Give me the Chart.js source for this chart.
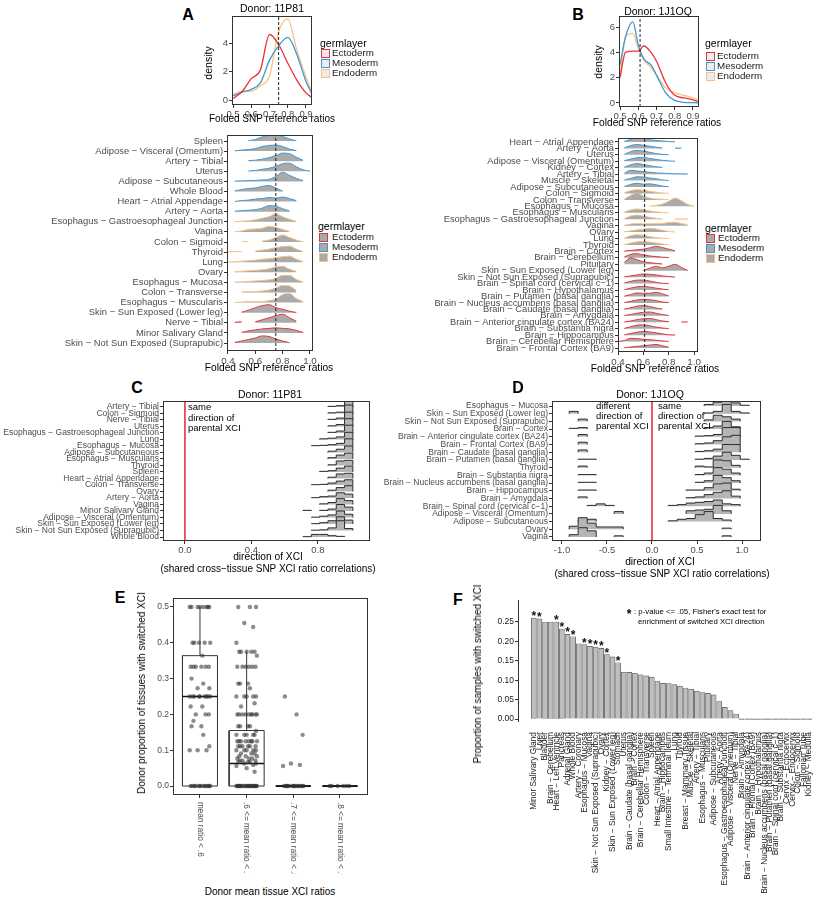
<!DOCTYPE html>
<html>
<head>
<meta charset="utf-8">
<script src="https://cdn.jsdelivr.net/npm/chart.js@4.4.1/dist/chart.umd.min.js"></script>
<style>
  body { margin: 0; background: #fff; overflow: hidden; font-family: 'Liberation Sans', Arial, sans-serif; }
  #fig { position: relative; width: 815px; height: 900px; overflow: hidden; }
  #fig canvas { position: absolute; }
  .t { position: absolute; white-space: nowrap; line-height: 1; color: #000; }
  .key { position: absolute; width: 7px; height: 7px; border: 1.3px solid; }
</style>
</head>
<body>
<div id="fig"></div>
<script>
const na = null;

// ---- A / B top: density of folded SNP ratios per germ layer
const densA_x = [0.50, 0.55, 0.60, 0.65, 0.70, 0.75, 0.80, 0.85, 0.90, 0.93];
const densA_ecto = [0.1, 0.6, 1.5, 2.1, 4.6, 3.9, 2.6, 1.4, 0.5, 0.2];
const densA_meso = [0.3, 0.55, 0.75, 1.2, 2.8, 3.8, 4.4, 3.2, 1.3, 0.5];
const densA_endo = [0.4, 0.6, 0.6, 1.0, 1.7, 4.8, 5.7, 3.5, 1.6, 0.6];
const densB_x = [0.50, 0.53, 0.57, 0.60, 0.63, 0.67, 0.70, 0.75, 0.80, 0.85, 0.90, 0.93];
const densB_ecto = [2.0, 4.0, 4.1, 4.1, 4.5, 4.0, 3.3, 1.6, 0.6, 0.4, 0.25, 0.1];
const densB_meso = [3.0, 5.2, 6.4, 4.6, 3.5, 3.0, 2.2, 0.8, 0.2, 0.05, 0.02, 0.0];
const densB_endo = [2.2, 5.2, 5.5, 4.3, 3.4, 2.8, 2.2, 1.2, 0.8, 0.6, 0.4, 0.25];
const medianA = 0.75;
const medianB = 0.61;
const densTicksX = [0.5, 0.6, 0.7, 0.8, 0.9];

// ---- A / B ridgelines (heights in row units, on ridgeX grid)
const ridgeX = [0.40, 0.45, 0.50, 0.55, 0.60, 0.65, 0.70, 0.75, 0.80, 0.85, 0.90, 0.95, 1.00];
const ridgeTicksX = [0.4, 0.6, 0.8, 1.0];
const ridgeA_tissues = ['Spleen', 'Adipose − Visceral (Omentum)', 'Artery − Tibial', 'Uterus', 'Adipose − Subcutaneous',
  'Whole Blood', 'Heart − Atrial Appendage', 'Artery − Aorta', 'Esophagus − Gastroesophageal Junction', 'Vagina',
  'Colon − Sigmoid', 'Thyroid', 'Lung', 'Ovary', 'Esophagus − Mucosa', 'Colon − Transverse', 'Esophagus − Muscularis',
  'Skin − Sun Exposed (Lower leg)', 'Nerve − Tibial', 'Minor Salivary Gland', 'Skin − Not Sun Exposed (Suprapubic)'];
const ridgeA_layer = ['M','M','M','M','M','M','M','M','E','E','E','E','E','E','E','E','E','X','X','X','X'];
const ridgeA_h = [
  [na, na, na, 0.02, 0.15, 0.4, 0.55, 0.6, 0.45, 0.2, 0.03, na, na],
  [na, 0.02, 0.1, 0.15, 0.25, 0.45, 0.55, 0.6, 0.45, 0.2, 0.05, na, na],
  [na, na, na, 0.05, 0.1, 0.2, 0.35, 0.55, 0.8, 0.75, 0.4, 0.1, na],
  [na, na, na, 0.03, 0.08, 0.2, 0.3, 0.5, 0.75, 0.8, 0.45, 0.15, 0.02],
  [na, 0.03, 0.05, 0.08, 0.1, 0.15, 0.2, 0.5, 0.9, 0.6, 0.3, 0.08, na],
  [na, 0.05, 0.2, 0.3, 0.35, 0.5, 0.6, 0.35, 0.05, na, na, na, na],
  [na, 0.02, 0.1, 0.15, 0.25, 0.3, 0.4, 0.35, 0.45, 0.3, 0.1, na, na],
  [na, 0.05, 0.1, 0.15, 0.2, 0.35, 0.6, 0.55, 0.3, 0.08, na, na, na],
  [na, 0.02, 0.05, 0.1, 0.2, 0.35, 0.5, 0.8, 0.5, 0.25, 0.05, na, na],
  [na, 0.02, 0.1, 0.25, 0.3, 0.35, 0.55, 0.45, 0.25, 0.05, na, na, na],
  [na, na, 0.05, 0.05, na, 0.1, 0.2, 0.45, 0.7, 0.45, 0.2, 0.03, na],
  [0.02, 0.05, 0.05, na, 0.1, 0.2, 0.3, 0.45, 0.55, 0.6, 0.3, 0.05, na],
  [0.02, 0.05, 0.1, 0.15, 0.2, 0.3, 0.35, 0.45, 0.55, 0.6, 0.3, 0.05, na],
  [na, 0.05, 0.1, 0.15, 0.2, 0.25, 0.35, 0.55, 0.6, 0.3, 0.1, na, na],
  [na, 0.03, 0.05, 0.1, 0.15, 0.2, 0.25, 0.4, 0.7, 0.7, 0.3, 0.05, na],
  [na, na, 0.05, 0.1, 0.1, 0.15, 0.25, 0.45, 0.7, 0.65, 0.2, na, na],
  [na, 0.02, 0.05, 0.1, 0.1, 0.1, 0.2, 0.35, 0.8, 0.9, 0.4, 0.1, na],
  [na, na, 0.05, 0.25, 0.5, 0.7, 0.8, 0.5, 0.35, 0.15, 0.02, na, na],
  [na, 0.05, 0.1, na, 0.1, 0.3, 0.5, 0.7, 0.85, 0.5, 0.15, na, na],
  [na, na, 0.05, 0.2, 0.3, 0.4, 0.45, 0.5, 0.45, 0.4, 0.25, 0.05, na],
  [na, 0.05, 0.2, 0.35, 0.5, 0.7, 0.65, 0.4, 0.2, 0.03, na, na, na]
];
const ridgeB_tissues = ['Heart − Atrial Appendage', 'Artery − Aorta', 'Uterus', 'Adipose − Visceral (Omentum)', 'Kidney − Cortex',
  'Artery − Tibial', 'Muscle − Skeletal', 'Adipose − Subcutaneous', 'Colon − Sigmoid', 'Colon − Transverse',
  'Esophagus − Mucosa', 'Esophagus − Muscularis', 'Esophagus − Gastroesophageal Junction', 'Vagina', 'Ovary', 'Lung',
  'Thyroid', 'Brain − Cortex', 'Brain − Cerebellum', 'Pituitary', 'Skin − Sun Exposed (Lower leg)',
  'Skin − Not Sun Exposed (Suprapubic)', 'Brain − Spinal cord (cervical c−1)', 'Brain − Hypothalamus',
  'Brain − Putamen (basal ganglia)', 'Brain − Nucleus accumbens (basal ganglia)', 'Brain − Caudate (basal ganglia)',
  'Brain − Amygdala', 'Brain − Anterior cingulate cortex (BA24)', 'Brain − Substantia nigra', 'Brain − Hippocampus',
  'Brain − Cerebellar Hemisphere', 'Brain − Frontal Cortex (BA9)'];
const ridgeB_layer = ['M','M','M','M','M','M','M','M','E','E','E','E','E','E','E','E','E',
  'X','X','X','X','X','X','X','X','X','X','X','X','X','X','X','X'];
const ridgeB_h = [
  [na, 0.1, 0.4, 0.75, 0.6, 0.35, 0.25, 0.15, 0.08, 0.02, na, na, na],
  [na, 0.1, 0.45, 0.6, 0.5, 0.35, 0.2, 0.05, na, 0.05, 0.05, na, na],
  [na, 0.1, 0.5, 0.7, 0.6, 0.4, 0.2, 0.08, 0.02, na, na, na, na],
  [na, 0.1, 0.35, 0.55, 0.6, 0.45, 0.3, 0.15, 0.05, 0.02, na, na, na],
  [na, 0.1, 0.45, 0.65, 0.5, 0.3, 0.15, 0.05, na, na, na, na, na],
  [na, 0.15, 0.6, 0.5, 0.4, 0.3, 0.2, 0.15, 0.1, 0.05, 0.05, 0.02, na],
  [na, 0.1, 0.35, 0.6, 0.55, 0.4, 0.3, 0.1, 0.02, na, na, na, na],
  [na, 0.1, 0.4, 0.6, 0.45, 0.5, 0.35, 0.15, 0.05, na, na, na, na],
  [na, 0.1, 0.45, 0.6, 0.5, 0.35, 0.2, 0.08, 0.02, na, na, na, na],
  [na, 0.15, 0.7, 1.1, 0.6, 0.3, 0.15, 0.1, 0.05, na, na, na, na],
  [na, na, na, na, na, 0.05, 0.15, 0.35, 0.8, 1.3, 0.9, 0.3, 0.05],
  [na, 0.1, 0.45, 0.6, 0.5, 0.3, 0.15, 0.05, 0.02, na, na, na, na],
  [na, 0.1, 0.5, 0.65, 0.5, 0.3, 0.15, 0.05, na, 0.05, 0.05, 0.05, na],
  [na, 0.05, 0.25, 0.35, 0.3, 0.3, 0.3, 0.35, 0.5, 0.55, 0.35, 0.15, na],
  [na, 0.05, 0.2, 0.35, 0.45, 0.6, 0.5, 0.3, 0.1, 0.02, na, na, na],
  [na, 0.1, 0.45, 0.6, 0.5, 0.3, 0.15, 0.05, 0.02, na, na, na, na],
  [na, 0.05, 0.3, 0.5, 0.55, 0.45, 0.3, 0.15, 0.05, na, na, na, na],
  [na, 0.05, 0.15, 0.25, 0.35, 0.55, 0.8, 0.6, 0.35, 0.1, na, na, na],
  [na, 0.15, 0.55, 0.65, 0.45, 0.3, 0.2, 0.1, 0.05, na, na, na, na],
  [na, 0.3, 1.0, 0.7, 0.4, 0.25, 0.15, 0.05, na, na, na, na, na],
  [na, na, na, na, 0.05, 0.4, 0.7, 0.45, 0.7, 1.0, 0.5, 0.05, na],
  [na, 0.05, 0.2, 0.35, 0.5, 0.45, 0.35, 0.2, 0.1, 0.02, na, na, na],
  [na, 0.1, 0.35, 0.55, 0.55, 0.4, 0.2, 0.05, 0.02, na, na, na, na],
  [na, 0.05, 0.3, 0.5, 0.55, 0.45, 0.3, 0.15, 0.05, na, na, na, na],
  [na, 0.05, 0.3, 0.55, 0.5, 0.5, 0.65, 0.4, 0.1, na, na, na, na],
  [na, 0.05, 0.25, 0.45, 0.55, 0.5, 0.35, 0.15, 0.05, na, na, na, na],
  [na, 0.05, 0.25, 0.5, 0.6, 0.45, 0.2, 0.05, na, na, na, na, na],
  [na, 0.05, 0.2, 0.4, 0.55, 0.6, 0.4, 0.2, 0.05, na, na, na, na],
  [na, 0.05, 0.2, 0.4, 0.55, 0.6, 0.4, 0.2, 0.1, na, 0.05, 0.05, na],
  [na, 0.05, 0.3, 0.55, 0.6, 0.45, 0.25, 0.1, 0.02, na, na, na, na],
  [na, 0.05, 0.25, 0.45, 0.55, 0.5, 0.35, 0.2, 0.05, 0.02, na, na, na],
  [0.02, 0.15, 0.5, 0.45, 0.35, 0.3, 0.2, 0.1, 0.03, na, na, na, na],
  [na, 0.03, 0.15, 0.25, 0.35, 0.45, 0.55, 0.35, 0.1, na, na, na, na]
];

// ---- C / D: histograms of XCI direction correlations (bin heights in row units)
const corrC_edges = [0.71, 0.76, 0.81, 0.86, 0.91, 0.96, 1.01];
const corrC_ticks = [0.0, 0.4, 0.8];
const corrC_tissues = ['Artery − Tibial', 'Colon − Sigmoid', 'Nerve − Tibial', 'Uterus', 'Esophagus − Gastroesophageal Junction',
  'Lung', 'Esophagus − Mucosa', 'Adipose − Subcutaneous', 'Esophagus − Muscularis', 'Thyroid', 'Spleen',
  'Heart − Atrial Appendage', 'Colon − Transverse', 'Ovary', 'Artery − Aorta', 'Vagina', 'Minor Salivary Gland',
  'Adipose − Visceral (Omentum)', 'Skin − Sun Exposed (Lower leg)', 'Skin − Not Sun Exposed (Suprapubic)', 'Whole Blood'];
const corrC_h = [
  [na, na, na, 0.1, 0.2, 1.3],
  [na, na, na, 0.1, 0.2, 1.3],
  [na, na, na, 0.1, 0.3, 1.2],
  [na, na, na, 0.1, 0.3, 1.2],
  [na, na, na, 0.1, 0.3, 1.2],
  [na, na, 0.1, 0.2, 0.4, 1.1],
  [na, 0.05, 0.1, 0.2, 0.4, 1.1],
  [na, na, na, 0.2, 0.5, 1.0],
  [na, na, na, 0.2, 0.6, 0.9],
  [na, na, na, 0.1, 0.7, 0.8],
  [na, na, 0.1, 0.2, 0.6, 0.9],
  [na, na, na, 0.2, 0.7, 0.8],
  [na, 0.05, 0.1, 0.3, 0.6, 0.8],
  [na, na, na, 0.2, 0.6, 0.9],
  [na, 0.05, 0.2, 0.3, 0.8, 0.6],
  [na, na, 0.1, 0.3, 0.9, 0.6],
  [0.1, na, 0.1, 0.3, 1.0, 0.6],
  [na, 0.05, 0.2, 0.4, 1.0, 0.5],
  [na, 0.05, 0.2, 0.5, 1.1, 0.6],
  [na, 0.05, 0.1, 0.4, 1.5, 0.3],
  [0.05, 0.4, 0.4, 0.2, 0.1, na]
];
const corrD_leftEdges = [-0.92, -0.82, -0.72, -0.62, -0.52, -0.42, -0.32];
const corrD_rightEdges = [0.18, 0.28, 0.38, 0.48, 0.58, 0.68, 0.78, 0.88, 0.98, 1.08];
const corrD_ticks = [-1.0, -0.5, 0.0, 0.5, 1.0];
const corrD_tissues = ['Esophagus − Mucosa', 'Skin − Sun Exposed (Lower leg)', 'Skin − Not Sun Exposed (Suprapubic)',
  'Brain − Cortex', 'Brain − Anterior cingulate cortex (BA24)', 'Brain − Frontal Cortex (BA9)',
  'Brain − Caudate (basal ganglia)', 'Brain − Putamen (basal ganglia)', 'Thyroid', 'Brain − Substantia nigra',
  'Brain − Nucleus accumbens (basal ganglia)', 'Brain − Hippocampus', 'Brain − Amygdala',
  'Brain − Spinal cord (cervical c−1)', 'Adipose − Visceral (Omentum)', 'Adipose − Subcutaneous', 'Ovary', 'Vagina'];
const corrD_left = [
  [na, na, na, na, na, na],
  [0.3, na, na, na, na, na],
  [na, 0.3, na, na, na, na],
  [0.1, 0.2, na, na, na, na],
  [na, 0.3, na, na, na, na],
  [na, 0.3, na, na, na, na],
  [na, 0.3, na, na, na, na],
  [na, 0.1, 0.1, na, na, na],
  [na, 0.2, na, na, na, na],
  [na, 0.1, 0.1, na, na, na],
  [na, 0.1, 0.1, na, na, na],
  [na, 0.1, 0.1, na, na, na],
  [na, 0.2, na, na, na, na],
  [na, na, 0.1, 0.3, 0.1, na],
  [na, na, na, na, na, 0.3],
  [na, 0.2, 0.3, na, na, na],
  [0.4, 1.5, 0.8, 0.3, 0.3, 0.3],
  [0.3, 1.2, 0.8, na, na, 0.15]
];
const corrD_right = [
  [na, na, na, na, 0.2, 0.5, 0.9, 0.4, 0.1],
  [na, na, na, na, 0.1, 0.3, 1.2, 0.3, 0.1],
  [na, na, na, na, 0.2, 0.8, 0.6, 0.3, na],
  [na, na, na, na, 0.2, 0.4, 1.0, 0.3, na],
  [na, na, na, 0.1, 0.15, 0.3, 1.2, 1.2, na],
  [na, na, na, 0.1, 0.2, 0.5, 1.0, 1.2, na],
  [na, na, na, 0.1, 0.2, 0.4, 1.0, 1.0, na],
  [na, na, na, 0.1, 0.2, 0.5, 1.0, 0.6, 0.1],
  [na, na, na, 0.2, 0.1, 1.0, 0.9, 0.3, na],
  [na, na, na, 0.1, 0.3, 1.0, 0.8, 0.3, na],
  [na, na, na, 0.1, 0.3, 1.0, 0.7, 0.3, na],
  [na, na, 0.1, 0.1, 0.4, 0.9, 1.0, 0.2, na],
  [na, na, 0.1, 0.2, 0.5, 0.8, 1.0, 0.3, na],
  [0.1, 0.2, 0.4, 0.5, 0.6, 0.8, 0.3, 0.2, na],
  [na, na, 0.4, 0.5, 0.6, 1.1, 0.4, na, na],
  [0.1, 0.3, 0.4, 0.9, 1.3, 0.4, 0.2, na, na],
  [na, na, na, na, na, na, 0.15, na, na],
  [na, na, na, na, na, na, 0.15, na, na]
];

// ---- E: donor proportion of tissues with switched XCI
const eCats = ['mean ratio < .6', '.6 <= mean ratio < .7', '.7 <= mean ratio < .8', '.8 <= mean ratio < .9'];
const eTicksY = [0.0, 0.1, 0.2, 0.3, 0.4, 0.5];
const boxQ1 = [0, 0, 0, 0];
const boxMed = [0.25, 0.063, 0, 0];
const boxQ3 = [0.364, 0.155, 0, 0];
const boxHi = [0.5, 0.375, 0, 0];
const ptsE1 = [0.5, 0.5, 0.5, 0.5, 0.5, 0.5, 0.5, 0.5, 0.4, 0.4, 0.4, 0.4, 0.4, 0.364, 0.333, 0.333, 0.333, 0.333,
  0.333, 0.333, 0.3, 0.286, 0.273, 0.273, 0.25, 0.25, 0.25, 0.25, 0.25, 0.25, 0.25, 0.25, 0.25, 0.222, 0.222,
  0.2, 0.2, 0.2, 0.182, 0.167, 0.167, 0.143, 0.111, 0.1, 0.1, 0.1, 0, 0, 0, 0, 0, 0, 0, 0, 0, 0, 0, 0];
const ptsE2 = [0.5, 0.5, 0.5, 0.455, 0.444, 0.4, 0.375, 0.375, 0.375, 0.375, 0.375, 0.364, 0.333, 0.333, 0.333,
  0.333, 0.333, 0.333, 0.286, 0.286, 0.286, 0.273, 0.25, 0.25, 0.25, 0.25, 0.25, 0.231, 0.222, 0.2, 0.2, 0.2, 0.2,
  0.2, 0.2, 0.2, 0.2, 0.2, 0.167, 0.167, 0.167, 0.167, 0.154, 0.143, 0.143, 0.143, 0.143, 0.143, 0.125, 0.125,
  0.125, 0.125, 0.125, 0.125, 0.125, 0.125, 0.111, 0.111, 0.111, 0.111, 0.111, 0.111, 0.1, 0.1, 0.1, 0.1, 0.1,
  0.091, 0.091, 0.091, 0.083, 0.083, 0.083, 0.077, 0.077, 0.077, 0.071, 0.071, 0.071, 0.067, 0.067, 0.067,
  0.063, 0.063, 0.059, 0.056, 0.05, 0.04, 0, 0, 0, 0, 0, 0, 0, 0, 0, 0, 0, 0, 0, 0, 0, 0, 0, 0, 0, 0];
const ptsE3 = [0.25, 0.2, 0.143, 0.063, 0.059, 0.056, 0, 0, 0, 0, 0, 0, 0, 0, 0, 0, 0, 0, 0, 0];
const ptsE4 = [0, 0, 0, 0, 0, 0];

// ---- F: proportion of samples with switched XCI per tissue
const fNames = ['Minor Salivary Gland', 'Liver', 'Bladder', 'Brain − Cerebellum', 'Heart − Left Ventricle', 'Pancreas',
  'Adrenal Gland', 'Whole Blood', 'Artery − Coronary', 'Esophagus − Mucosa', 'Vagina',
  'Skin − Not Sun Exposed (Suprapubic)', 'Ovary', 'Kidney − Cortex', 'Skin − Sun Exposed (Lower leg)', 'Stomach',
  'Uterus', 'Brain − Caudate (basal ganglia)', 'Brain − Cortex', 'Brain − Cerebellar Hemisphere', 'Colon − Transverse',
  'Spleen', 'Heart − Atrial Appendage', 'Brain − Hippocampus', 'Small Intestine − Terminal Ileum', 'Lung', 'Thyroid',
  'Breast − Mammary Tissue', 'Muscle − Skeletal', 'Artery − Tibial', 'Esophagus − Muscularis', 'Pituitary',
  'Adipose − Subcutaneous', 'Artery − Aorta', 'Esophagus − Gastroesophageal Junction', 'Adipose − Visceral (Omentum)',
  'Nerve − Tibial', 'Brain − Amygdala', 'Brain − Anterior cingulate cortex (BA24)', 'Brain − Frontal Cortex (BA9)',
  'Brain − Hypothalamus', 'Brain − Nucleus accumbens (basal ganglia)', 'Brain − Putamen (basal ganglia)',
  'Brain − Spinal cord (cervical c−1)', 'Brain − Substantia nigra', 'Cervix − Ectocervix', 'Cervix − Endocervix',
  'Colon − Sigmoid', 'Fallopian Tube', 'Kidney − Medulla'];
const fVals = [0.260, 0.258, 0.250, 0.250, 0.250, 0.232, 0.218, 0.212, 0.194, 0.192, 0.187, 0.185, 0.182, 0.166,
  0.160, 0.145, 0.121, 0.120, 0.118, 0.114, 0.111, 0.108, 0.098, 0.092, 0.091, 0.089, 0.085, 0.080, 0.077, 0.072,
  0.068, 0.066, 0.062, 0.045, 0.030, 0.022, 0.013, 0, 0, 0, 0, 0, 0, 0, 0, 0, 0, 0, 0, 0];
const fStarBars = [1, 2, 5, 6, 7, 8, 10, 11, 12, 13, 14, 16];
const fTicksY = [0.00, 0.05, 0.10, 0.15, 0.20, 0.25];

// ---- styling
const layerColors = { X: '#e4353a', M: '#3f98d4', E: '#fbc27f' };
const ridgeFill = '#aaaaaa';
const histFill = '#b5b5b5';
const jitterE = [-0.18, 0.07, 0.2, -0.05, 0.14, -0.22, 0.0, 0.17, -0.12, 0.1, -0.16, 0.22, -0.02, 0.05, -0.2, 0.12, -0.09, 0.19, -0.14, 0.03];
const boxHalf = 0.375;

Chart.defaults.font.family = "'Liberation Sans', Arial, sans-serif";
Chart.defaults.color = '#4d4d4d';
const fig = document.getElementById('fig');

function makeCanvas(left, top, w, h) {
  const c = document.createElement('canvas');
  c.width = w; c.height = h;
  c.style.left = left + 'px'; c.style.top = top + 'px';
  c.style.width = w + 'px'; c.style.height = h + 'px';
  fig.appendChild(c);
  return c;
}

function txt(s, x, y, size, o) {
  o = o || {};
  const d = document.createElement('div');
  d.className = 't';
  d.textContent = s;
  d.style.left = x + 'px'; d.style.top = y + 'px';
  d.style.fontSize = size + 'px';
  if (o.bold) d.style.fontWeight = 'bold';
  if (o.color) d.style.color = o.color;
  d.style.transform = 'translate(' + (o.left ? '0' : '-50%') + ', -50%)' + (o.rot ? ' rotate(' + o.rot + 'deg)' : '');
  fig.appendChild(d);
}

function legend(x, yTitle, yKey, fill, textX) {
  txt('germlayer', x, yTitle, 10.5, { left: true });
  [['X', 'Ectoderm'], ['M', 'Mesoderm'], ['E', 'Endoderm']].forEach(function (p, i) {
    const k = document.createElement('div');
    k.className = 'key';
    k.style.left = (x + 1) + 'px'; k.style.top = (yKey + 10 * i - 4.5) + 'px';
    k.style.borderColor = layerColors[p[0]]; k.style.background = fill;
    fig.appendChild(k);
    txt(p[1], textX, yKey + 10 * i, 9.8, { left: true, color: '#1a1a1a' });
  });
}

function linAxis(min, max, vals, fmt, isX, room, size) {
  return {
    type: 'linear', min: min, max: max, offset: false,
    afterBuildTicks: function (s) { s.ticks = vals.map(v => ({ value: v })); },
    afterFit: function (s) {
      if (isX) { s.height = room; s.paddingLeft = 0; s.paddingRight = 0; }
      else { s.width = room; s.paddingTop = 0; s.paddingBottom = 0; }
    },
    grid: { display: true, drawOnChartArea: false, drawTicks: true, tickLength: 3, color: '#333', offset: false },
    border: { display: false },
    ticks: { autoSkip: false, maxRotation: 0, minRotation: 0, padding: 1, color: '#4d4d4d', font: { size: size }, callback: fmt }
  };
}

function baseOpts(pad, xAxis, yAxis) {
  return {
    responsive: false, animation: false, events: [],
    layout: { padding: pad },
    plugins: { legend: { display: false }, tooltip: { enabled: false } },
    scales: { x: xAxis, y: yAxis }
  };
}

// panel border like ggplot's panel.border
const boxPlugin = {
  id: 'panelBox',
  afterDraw: function (chart) {
    const a = chart.chartArea, ctx = chart.ctx;
    ctx.save();
    ctx.strokeStyle = '#333'; ctx.lineWidth = 1;
    ctx.strokeRect(a.left + 0.5, a.top + 0.5, a.right - a.left - 1, a.bottom - a.top - 1);
    ctx.restore();
  }
};

function vline(x, y0, y1, color, dash, width) {
  return { type: 'line', data: [{ x: x, y: y0 }, { x: x, y: y1 }], borderColor: color, borderDash: dash,
    borderWidth: width, pointRadius: 0, fill: false, order: 0 };
}

function densLine(xs, ys, layer) {
  return { type: 'line', data: xs.map((x, i) => ({ x: x, y: ys[i] })), borderColor: layerColors[layer],
    borderWidth: 1.3, pointRadius: 0, fill: false, cubicInterpolationMode: 'monotone', order: 1 };
}

function ridgeSets(heights, layers) {
  const n = heights.length;
  return heights.map(function (hs, r) {
    const base = n - 1 - r;
    return {
      type: 'line',
      data: hs.map((h, i) => ({ x: ridgeX[i], y: h === null ? null : base + h })),
      borderColor: layerColors[layers[r]], borderWidth: 1, backgroundColor: ridgeFill,
      fill: { value: base }, cubicInterpolationMode: 'monotone', pointRadius: 0, spanGaps: false,
      order: base + 1
    };
  });
}

// stepped outline of one histogram row, broken where a bin is empty
function stepPoints(edges, hs, base) {
  const pts = [];
  let open = false;
  hs.forEach(function (h, i) {
    if (h === null) {
      if (open) { pts.push({ x: edges[i], y: base }, { x: edges[i], y: null }); open = false; }
      return;
    }
    if (!open) { pts.push({ x: edges[i], y: base }); open = true; }
    pts.push({ x: edges[i], y: base + h });
  });
  if (open) pts.push({ x: edges[hs.length], y: base }, { x: edges[hs.length], y: null });
  return pts;
}

function histSet(pts, base) {
  return { type: 'line', data: pts, stepped: true, borderColor: '#2b2b2b', borderWidth: 1,
    backgroundColor: histFill, fill: { value: base }, pointRadius: 0, spanGaps: false, order: base + 1 };
}

const f1 = v => v.toFixed(1);
const f0 = v => v.toFixed(0);

// ---------- A top
new Chart(makeCanvas(200, 0, 120, 125), {
  type: 'line',
  data: { datasets: [densLine(densA_x, densA_ecto, 'X'), densLine(densA_x, densA_meso, 'M'),
    densLine(densA_x, densA_endo, 'E'), vline(medianA, -0.35, 5.9, '#222', [3, 2], 1)] },
  options: baseOpts({ left: 0, top: 16, right: 8, bottom: 0 },
    linAxis(0.4945, 0.933, densTicksX, f1, true, 20, 9.5),
    linAxis(-0.35, 5.9, [0, 2, 4], f0, false, 32, 9.5)),
  plugins: [boxPlugin]
});

// ---------- B top
new Chart(makeCanvas(589, 0, 115, 125), {
  type: 'line',
  data: { datasets: [densLine(densB_x, densB_ecto, 'X'), densLine(densB_x, densB_meso, 'M'),
    densLine(densB_x, densB_endo, 'E'), vline(medianB, -0.32, 6.87, '#222', [3, 2], 1)] },
  options: baseOpts({ left: 0, top: 16, right: 5, bottom: 0 },
    linAxis(0.4945, 0.933, densTicksX, f1, true, 18, 9.5),
    linAxis(-0.32, 6.87, [0, 2, 4, 6], f0, false, 30, 9.5)),
  plugins: [boxPlugin]
});

// ---------- A ridges
const rowsA = ridgeA_tissues.length;
new Chart(makeCanvas(47, 133, 270, 233), {
  type: 'line',
  data: { datasets: ridgeSets(ridgeA_h, ridgeA_layer).concat([vline(medianA, -0.79, 20.6, '#222', [3, 2], 1)]) },
  options: baseOpts({ left: 0, top: 2, right: 4, bottom: 0 },
    linAxis(0.393, 1.022, ridgeTicksX, f1, true, 15, 9.8),
    linAxis(-0.79, 20.594, ridgeA_tissues.map((t, i) => i), v => ridgeA_tissues[rowsA - 1 - v], false, 180, 9.4)),
  plugins: [boxPlugin]
});

// ---------- B ridges
const rowsB = ridgeB_tissues.length;
new Chart(makeCanvas(413, 136, 289, 232), {
  type: 'line',
  data: { datasets: ridgeSets(ridgeB_h, ridgeB_layer).concat([vline(medianB, -0.62, 32.62, '#222', [3, 2], 1)]) },
  options: baseOpts({ left: 0, top: 2, right: 4, bottom: 0 },
    linAxis(0.4, 1.031, ridgeTicksX, f1, true, 16, 9.8),
    linAxis(-0.621, 32.62, ridgeB_tissues.map((t, i) => i), v => ridgeB_tissues[rowsB - 1 - v], false, 205, 9.3)),
  plugins: [boxPlugin]
});

// ---------- C
const rowsC = corrC_tissues.length;
const setsC = corrC_h.map((hs, r) => histSet(stepPoints(corrC_edges, hs, rowsC - 1 - r), rowsC - 1 - r));
new Chart(makeCanvas(0, 399, 374, 158), {
  type: 'line',
  data: { datasets: setsC.concat([vline(0, -0.62, 20.92, '#e8141b', [], 1.4)]) },
  options: baseOpts({ left: 0, top: 2, right: 4, bottom: 0 },
    linAxis(-0.132, 1.113, corrC_ticks, f1, true, 16, 9.5),
    linAxis(-0.615, 20.92, corrC_tissues.map((t, i) => i), v => corrC_tissues[rowsC - 1 - v], false, 163, 8.5)),
  plugins: [boxPlugin]
});

// ---------- D
const rowsD = corrD_tissues.length;
const setsD = corrD_tissues.map(function (t, r) {
  const base = rowsD - 1 - r;
  const pts = stepPoints(corrD_leftEdges, corrD_left[r], base).concat(stepPoints(corrD_rightEdges, corrD_right[r], base));
  return histSet(pts, base);
});
new Chart(makeCanvas(367, 399, 398, 158), {
  type: 'line',
  data: { datasets: setsD.concat([vline(0, -0.52, 17.65, '#e8141b', [], 1.4)]) },
  options: baseOpts({ left: 0, top: 2, right: 4, bottom: 0 },
    linAxis(-1.111, 1.211, corrD_ticks, f1, true, 16, 9.5),
    linAxis(-0.52, 17.65, corrD_tissues.map((t, i) => i), v => corrD_tissues[rowsD - 1 - v], false, 185, 8.5)),
  plugins: [boxPlugin]
});

// ---------- E
const ptsE = [ptsE1, ptsE2, ptsE3, ptsE4];
const scatterE = [];
ptsE.forEach(function (vals, c) {
  vals.forEach((v, i) => scatterE.push({ x: c + 1 + jitterE[i % jitterE.length], y: v }));
});
const boxPts = [], medPts = [], whiskPts = [];
boxQ1.forEach(function (q1, i) {
  const c = i + 1, q3 = boxQ3[i];
  boxPts.push({ x: c - boxHalf, y: q1 }, { x: c + boxHalf, y: q1 }, { x: c + boxHalf, y: q3 },
    { x: c - boxHalf, y: q3 }, { x: c - boxHalf, y: q1 }, { x: c, y: null });
  medPts.push({ x: c - boxHalf, y: boxMed[i] }, { x: c + boxHalf, y: boxMed[i] }, { x: c, y: null });
  whiskPts.push({ x: c, y: q3 }, { x: c, y: boxHi[i] }, { x: c, y: null });
});
const eLabels = {
  id: 'eLabels',
  afterDraw: function (chart) {
    const ctx = chart.ctx, x = chart.scales.x, bottom = chart.chartArea.bottom;
    ctx.save();
    ctx.font = "8.2px 'Liberation Sans', Arial";
    ctx.fillStyle = '#4d4d4d'; ctx.textAlign = 'left'; ctx.textBaseline = 'middle';
    eCats.forEach(function (lab, i) {
      ctx.save();
      ctx.translate(x.getPixelForValue(i + 1), bottom + 7);
      ctx.rotate(Math.PI / 2);
      ctx.fillText(lab, 0, 0);
      ctx.restore();
    });
    ctx.restore();
  }
};
new Chart(makeCanvas(143, 594, 229, 280), {
  type: 'scatter',
  data: { datasets: [
    { data: boxPts, showLine: true, borderColor: '#333', borderWidth: 1, pointRadius: 0, spanGaps: false, order: 3 },
    { data: whiskPts, showLine: true, borderColor: '#333', borderWidth: 1, pointRadius: 0, spanGaps: false, order: 3 },
    { data: medPts, showLine: true, borderColor: '#111', borderWidth: 1.7, pointRadius: 0, spanGaps: false, order: 2 },
    { data: scatterE, pointRadius: 2.2, pointBorderWidth: 0, backgroundColor: 'rgba(45,45,45,0.55)', order: 1 }
  ] },
  options: baseOpts({ left: 0, top: 2, right: 4, bottom: 0 },
    linAxis(0.422, 4.6, [1, 2, 3, 4], () => '', true, 79, 8),
    linAxis(-0.025, 0.525, eTicksY, f1, false, 30, 8.5)),
  plugins: [boxPlugin, eLabels]
});

// ---------- F
const fStars = {
  id: 'fStars',
  afterDatasetsDraw: function (chart) {
    const ctx = chart.ctx, x = chart.scales.x, y = chart.scales.y;
    ctx.save();
    ctx.font = "bold 12px 'Liberation Sans', Arial";
    ctx.fillStyle = '#111'; ctx.textAlign = 'center'; ctx.textBaseline = 'alphabetic';
    fStarBars.forEach(b => ctx.fillText('*', x.getPixelForValue(b), y.getPixelForValue(fVals[b - 1]) + 2));
    ctx.restore();
  }
};
const fX = linAxis(-1.81, 50.68, fNames.map((t, i) => i + 1), v => fNames[v - 1], true, 179, 8.4);
fX.grid = { display: false };
fX.ticks.maxRotation = 90; fX.ticks.minRotation = 90; fX.ticks.padding = 3; fX.ticks.color = '#1a1a1a';
const fY = linAxis(-0.00515, 0.3067, fTicksY, v => v.toFixed(2), false, 38, 8.5);
fY.border = { display: true, color: '#333', width: 1 };
fY.ticks.color = '#1a1a1a';
new Chart(makeCanvas(480, 598, 335, 302), {
  type: 'bar',
  data: { datasets: [{ data: fVals.map((v, i) => ({ x: i + 1, y: v })), barThickness: 5, minBarLength: 1,
    backgroundColor: '#bebebe', borderColor: '#555', borderWidth: 0.7 }] },
  options: baseOpts({ left: 0, top: 2, right: 2, bottom: 0 }, fX, fY),
  plugins: [fStars]
});

// ---------- text outside the plots
[['A', 188, 15], ['B', 578, 15], ['C', 137, 388], ['D', 518, 388], ['E', 120, 598], ['F', 458, 600]]
  .forEach(p => txt(p[0], p[1], p[2], 16, { bold: true }));
txt('Donor: 11P81', 272, 8, 10.5);
txt('Donor: 1J1OQ', 658, 11, 10.5);
txt('Donor: 11P81', 270, 394, 10.5);
txt('Donor: 1J1OQ', 650, 394, 10.5);
txt('density', 208, 63, 10.5, { rot: -90 });
txt('density', 598, 62, 10.5, { rot: -90 });
txt('Folded SNP reference ratios', 272, 119, 10);
txt('Folded SNP reference ratios', 657, 123, 10.2);
txt('Folded SNP reference ratios', 269, 368, 10.2);
txt('Folded SNP reference ratios', 655, 369, 10.2);
txt('direction of XCI', 268, 557, 10.2);
txt('(shared cross−tissue SNP XCI ratio correlations)', 268, 569, 10);
txt('direction of XCI', 660, 562, 10.2);
txt('(shared cross−tissue SNP XCI ratio correlations)', 662, 574, 10);
['same', 'direction of', 'parental XCI'].forEach((s, i) => txt(s, 188, 407 + 10.5 * i, 9.5, { left: true }));
['different', 'direction of', 'parental XCI'].forEach((s, i) => txt(s, 596, 406 + 10.2 * i, 9.5, { left: true }));
['same', 'direction of', 'parental XCI'].forEach((s, i) => txt(s, 658, 406 + 10.2 * i, 9.5, { left: true }));
legend(320, 43, 53, '#ececec', 332);
legend(705, 43, 56, '#ececec', 717);
legend(318, 226, 237, ridgeFill, 332);
legend(705, 228, 238, ridgeFill, 718);
txt('Donor proportion of tissues with switched XCI', 142, 693, 10, { rot: -90 });
txt('Donor mean tissue XCI ratios', 270, 892, 10);
txt('Proportion of samples with switched XCI', 478, 674, 10, { rot: -90 });
txt('*', 629, 614, 12, { bold: true });
txt(': p-value <= .05, Fisher\'s exact test for', 634, 612, 7.8, { left: true });
txt('enrichment of switched XCI direction', 638, 622, 7.8, { left: true });
</script>
</body>
</html>
